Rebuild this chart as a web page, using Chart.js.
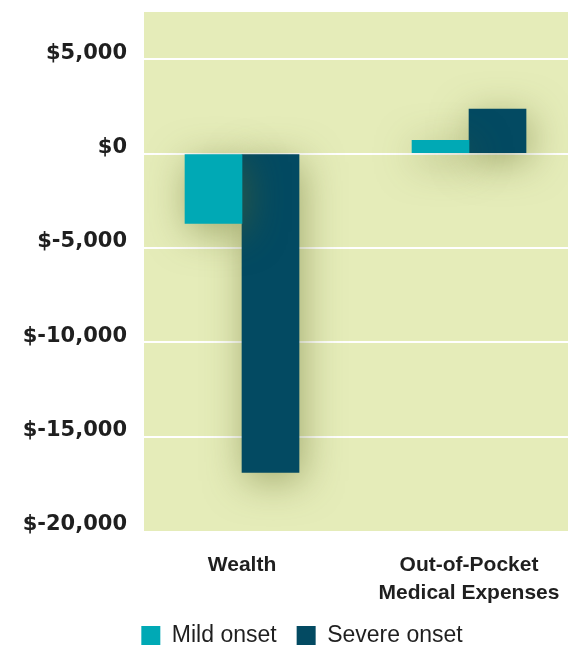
<!DOCTYPE html>
<html>
<head>
<meta charset="utf-8">
<script src="https://cdn.jsdelivr.net/npm/chart.js@4.4.1/dist/chart.umd.min.js"></script>
<style>
  html, body { margin: 0; padding: 0; background: #ffffff; overflow: hidden; }
  #chart { display: block; position: fixed; top: 0; left: 0; }
</style>
</head>
<body>
<canvas id="chart" width="578" height="657"></canvas>
<script>
// Change in household outcomes after onset
const categories = [["Wealth"], ["Out-of-Pocket", "Medical Expenses"]];
const seriesNames = ["Mild onset", "Severe onset"];
const mildOnset = [-3700, 700];
const severeOnset = [-16900, 2350];
const yTicks = [5000, 0, -5000, -10000, -15000, -20000];

const colors = { mild: "#00a9b5", severe: "#034a62", plot: "#e5ecb9", grid: "#ffffff", text: "#1f1f1f" };

// Fill the plotting area with the pale green panel
const plotBackground = {
  id: "plotBackground",
  beforeDraw(chart) {
    const { ctx, chartArea: a } = chart;
    ctx.save();
    ctx.fillStyle = colors.plot;
    ctx.fillRect(a.left, a.top, a.right - a.left, a.bottom - a.top);
    ctx.restore();
  }
};

// Soft drop shadow under the bars
const barShadow = {
  id: "barShadow",
  beforeDatasetsDraw(chart) {
    const ctx = chart.ctx;
    ctx.save();
    ctx.shadowColor = "rgba(95, 105, 35, 0.5)";
    ctx.shadowBlur = 38;
    ctx.shadowOffsetX = 3;
    ctx.shadowOffsetY = 8;
  },
  afterDatasetsDraw(chart) {
    chart.ctx.restore();
  }
};

// Nudge the legend row a little to the right
const legendShift = {
  id: "legendShift",
  afterLayout(chart) {
    if (chart.legend) {
      chart.legend.left += 18;
      chart.legend.right += 18;
    }
  }
};

const toPoints = (vals) => vals.map((v, i) => ({ x: i, y: v }));

new Chart(document.getElementById("chart"), {
  type: "bar",
  data: {
    datasets: [
      { label: seriesNames[0], data: toPoints(mildOnset), backgroundColor: colors.mild, barThickness: 57 },
      { label: seriesNames[1], data: toPoints(severeOnset), backgroundColor: colors.severe, barThickness: 57 }
    ]
  },
  options: {
    responsive: false,
    maintainAspectRatio: false,
    animation: false,
    devicePixelRatio: 1,
    layout: { autoPadding: false, padding: { top: 12, right: 10, bottom: 0, left: 0 } },
    plugins: {
      tooltip: { enabled: false },
      legend: {
        position: "bottom",
        align: "center",
        labels: {
          boxWidth: 19,
          boxHeight: 19,
          padding: 20,
          color: colors.text,
          font: { family: "'Liberation Sans', Arial, sans-serif", size: 23 }
        }
      }
    },
    scales: {
      x: {
        type: "linear",
        offset: false,
        min: -0.4317,
        max: 1.436,
        grid: { display: false, drawTicks: false },
        border: { display: false },
        afterBuildTicks(scale) { scale.ticks = categories.map((c, i) => ({ value: i })); },
        afterFit(scale) {
          scale.height = 73;
          scale.paddingLeft = 0;
          scale.paddingRight = 0;
        },
        ticks: {
          autoSkip: false,
          maxRotation: 0,
          padding: 20,
          color: colors.text,
          font: { family: "'Liberation Sans', Arial, sans-serif", size: 21, weight: "bold", lineHeight: 1.35 },
          callback: (v) => categories[v]
        }
      },
      y: {
        min: -20000,
        max: 7500,
        afterBuildTicks(scale) { scale.ticks = yTicks.map((v) => ({ value: v })); },
        afterFit(scale) {
          scale.width = 144;
          scale.paddingTop = 0;
          scale.paddingBottom = 0;
        },
        grid: {
          drawTicks: true,
          tickLength: 17,
          tickColor: "rgba(0,0,0,0)",
          lineWidth: 2,
          color: (ctx) => (ctx.tick && ctx.tick.value === -20000 ? "rgba(0,0,0,0)" : colors.grid)
        },
        border: { display: false },
        ticks: {
          padding: 0,
          labelOffset: -6,
          color: colors.text,
          font: { family: "'DejaVu Sans', sans-serif", size: 21, weight: "bold" },
          callback: (v) => "$" + Number(v).toLocaleString("en-US")
        }
      }
    }
  },
  plugins: [plotBackground, barShadow, legendShift]
});
</script>
</body>
</html>
